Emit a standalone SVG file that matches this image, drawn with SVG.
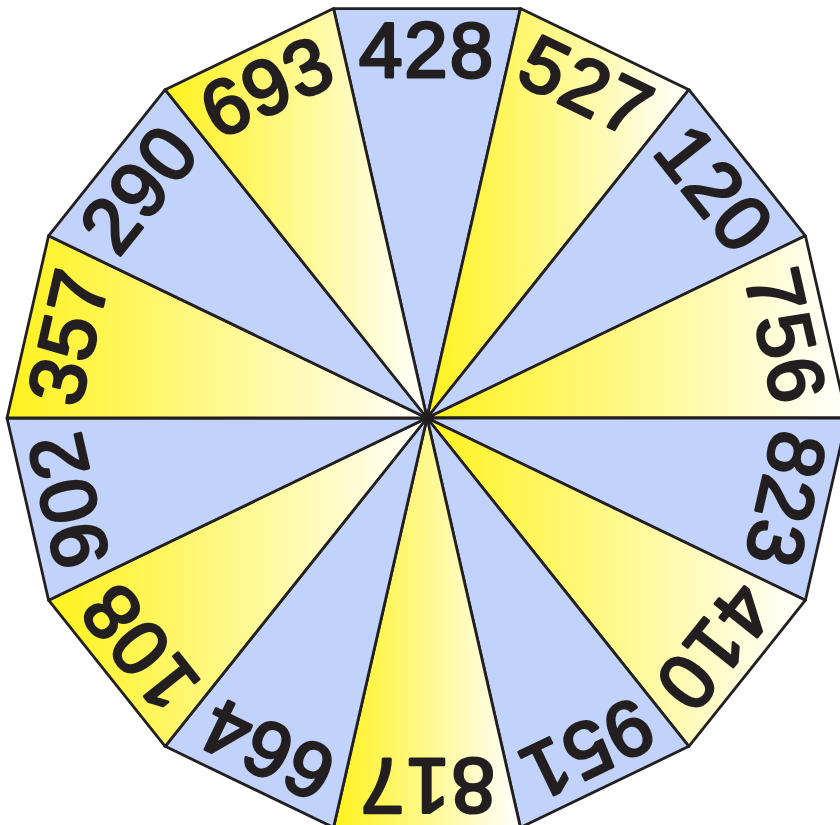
<svg xmlns="http://www.w3.org/2000/svg" width="840" height="825" viewBox="0 0 840 825">
<style>
.w{stroke:#231f20;stroke-width:2.8;stroke-linejoin:round}
.b{fill:#c2d3fb}
.y{fill:url(#yg)}
.t{font-family:"Liberation Sans",Arial,sans-serif;font-size:78px;fill:#231f20;stroke:#231f20;stroke-width:3;stroke-linejoin:round;text-anchor:middle;letter-spacing:2px}
</style>
<defs>
<linearGradient id="yg" x1="0" y1="0" x2="1" y2="0">
<stop offset="0" stop-color="#fff21c"/>
<stop offset="1" stop-color="#ffffff"/>
</linearGradient>
</defs>
<g id="wedges">
<g id="w428"><polygon class="w b" points="427,418 333.55,8.53 520.45,8.53"/></g>
<g id="w527"><polygon class="w y" points="427,418 520.45,8.53 688.87,89.64"/></g>
<g id="w120"><polygon class="w b" points="427,418 688.87,89.64 805.42,235.77"/></g>
<g id="w756"><polygon class="w y" points="427,418 805.42,235.77 847,418"/></g>
<g id="w823"><polygon class="w b" points="427,418 847,418 805.42,600.23"/></g>
<g id="w410"><polygon class="w y" points="427,418 805.42,600.23 688.87,746.36"/></g>
<g id="w951"><polygon class="w b" points="427,418 688.87,746.36 520.45,827.47"/></g>
<g id="w817"><polygon class="w y" points="427,418 520.45,827.47 333.55,827.47"/></g>
<g id="w664"><polygon class="w b" points="427,418 333.55,827.47 165.13,746.36"/></g>
<g id="w108"><polygon class="w y" points="427,418 165.13,746.36 48.58,600.23"/></g>
<g id="w902"><polygon class="w b" points="427,418 48.58,600.23 7,418"/></g>
<g id="w357"><polygon class="w y" points="427,418 7,418 48.58,235.77"/></g>
<g id="w290"><polygon class="w b" points="427,418 48.58,235.77 165.13,89.64"/></g>
<g id="w693"><polygon class="w y" points="427,418 165.13,89.64 333.55,8.53"/></g>
</g>
<g id="labels">
<text class="t" x="427" y="77" transform="rotate(0 427 418)">428</text>
<text class="t" x="427" y="77" transform="rotate(25.714 427 418)">527</text>
<text class="t" x="427" y="77" transform="rotate(51.429 427 418)">120</text>
<text class="t" x="427" y="77" transform="rotate(77.143 427 418)">756</text>
<text class="t" x="427" y="77" transform="rotate(102.857 427 418)">823</text>
<text class="t" x="427" y="77" transform="rotate(128.571 427 418)">410</text>
<text class="t" x="427" y="77" transform="rotate(154.286 427 418)">951</text>
<text class="t" x="427" y="77" transform="rotate(180 427 418)">817</text>
<text class="t" x="427" y="77" transform="rotate(205.714 427 418)">664</text>
<text class="t" x="427" y="77" transform="rotate(231.429 427 418)">108</text>
<text class="t" x="427" y="77" transform="rotate(257.143 427 418)">902</text>
<text class="t" x="427" y="77" transform="rotate(282.857 427 418)">357</text>
<text class="t" x="427" y="77" transform="rotate(308.571 427 418)">290</text>
<text class="t" x="427" y="77" transform="rotate(334.286 427 418)">693</text>
</g>
</svg>
